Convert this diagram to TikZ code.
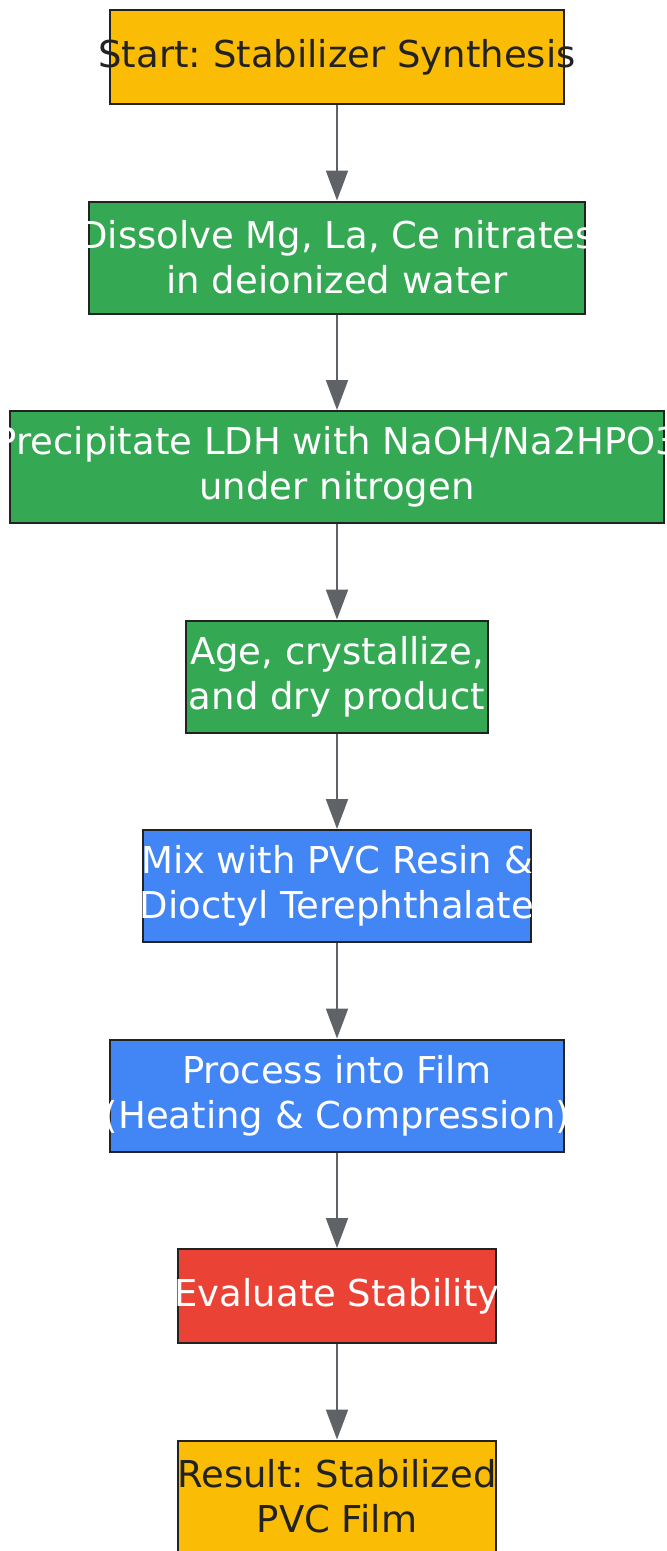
\documentclass[tikz,border=0pt]{standalone}
\usepackage{fontspec}
\setmainfont{DejaVu Sans}
\frenchspacing
\usetikzlibrary{positioning}
\usetikzlibrary{shapes,arrows.meta}
\definecolor{startyellow}{HTML}{FBBC05}
\definecolor{prepgreen}{HTML}{34A853}
\definecolor{mixblue}{HTML}{4285F4}
\definecolor{testred}{HTML}{EA4335}
\definecolor{boxline}{HTML}{222222}
\definecolor{arrowgray}{HTML}{5F6368}
\definecolor{darktext}{HTML}{222222}
\newcommand{\wideline}[1]{\makebox[0pt]{#1}}

\begin{document}
\begin{tikzpicture}[x=1pt,y=1pt,node distance=95.5pt,
  flowbox/.style={draw=boxline, line width=2pt, inner sep=0pt, align=center,
    font=\fontsize{37}{45}\selectfont, text=white},
  flowarrow/.style={draw=arrowgray, line width=2pt, -{Triangle[width=22pt,length=30pt]}}]
\useasboundingbox (0,0) rectangle (667,-1551);
% Steps
\node [flowbox, fill=startyellow, text=darktext, minimum width=454pt, minimum height=94pt] (start) at (337,-57) {\wideline{Start: Stabilizer Synthesis}};
\node [flowbox, fill=prepgreen, minimum width=496pt, minimum height=112pt, below=of start] (dissolve) {\wideline{Dissolve Mg, La, Ce nitrates}\\\wideline{in deionized water}};
\node [flowbox, fill=prepgreen, minimum width=654pt, minimum height=112pt, below=of dissolve] (precipitate) {\wideline{Precipitate LDH with NaOH/Na2HPO3}\\\wideline{under nitrogen}};
\node [flowbox, fill=prepgreen, minimum width=302pt, minimum height=112pt, below=of precipitate] (age) {\wideline{Age, crystallize,}\\\wideline{and dry product}};
\node [flowbox, fill=mixblue, minimum width=388pt, minimum height=112pt, below=of age] (mix) {\wideline{Mix with PVC Resin \&}\\\wideline{Dioctyl Terephthalate}};
\node [flowbox, fill=mixblue, minimum width=454pt, minimum height=112pt, below=of mix] (process) {\wideline{Process into Film}\\\wideline{(Heating \& Compression)}};
\node [flowbox, fill=testred, minimum width=318pt, minimum height=94pt, below=of process] (evaluate) {\wideline{Evaluate Stability}};
\node [flowbox, fill=startyellow, text=darktext, minimum width=318pt, minimum height=112pt, below=of evaluate] (result) {\wideline{Result: Stabilized}\\\wideline{PVC Film}};
% Arrows
\draw [flowarrow] (start) -- (dissolve);
\draw [flowarrow] (dissolve) -- (precipitate);
\draw [flowarrow] (precipitate) -- (age);
\draw [flowarrow] (age) -- (mix);
\draw [flowarrow] (mix) -- (process);
\draw [flowarrow] (process) -- (evaluate);
\draw [flowarrow] (evaluate) -- (result);
\end{tikzpicture}
\end{document}
